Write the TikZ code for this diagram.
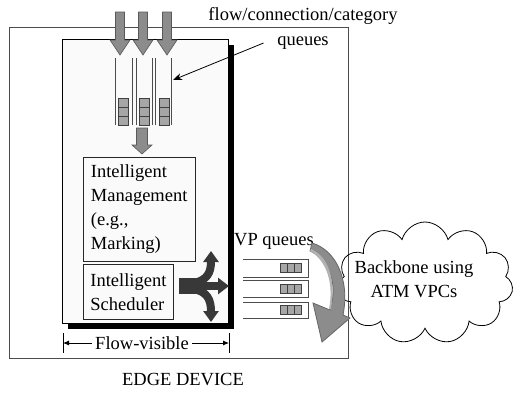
\documentclass[tikz,border=0pt]{standalone}
\usepackage{fontspec}
\setmainfont{Liberation Serif}
\usetikzlibrary{arrows.meta,shapes.symbols,positioning}
\tikzset{
  cell/.style={draw=black!75, fill=black!35, line width=0.6bp, inner sep=0pt, minimum width=10bp, minimum height=9bp},
  vcell/.style={cell, minimum width=7bp},
  blockarrow/.style={fill=black!45, draw=black!65, line width=0.6bp},
  box/.style={draw=black!85, line width=0.8bp, align=left, anchor=north west, inner ysep=0pt},
  sched/.style={black!78},
}
\begin{document}
\begin{tikzpicture}[x=1bp, y=-1bp, line width=0.8bp, font=\fontsize{18.5bp}{24bp}\selectfont]
  \useasboundingbox (0,0) rectangle (514,398);
  % edge device
  \draw[black!70] (9,27) rectangle (348,358);
  \node (edge) at (183,380) {EDGE DEVICE};
  % flow-visible part, with shadow
  \fill (68,45) rectangle (234,329);
  \draw[fill=black!2] (62,39) rectangle (228,323);
  % incoming flows
  \foreach \x in {120,143,167}
    \filldraw[blockarrow] (\x-4.5,12) -- (\x+4.5,12) -- (\x+4.5,40) -- (\x+10,40) -- (\x,55) -- (\x-10,40) -- (\x-4.5,40) -- cycle;
  % per-flow queues
  \foreach \l/\r/\c [count=\i] in {115/132/123.5, 136/152/144, 155/171/164} {
    \draw[black!70] (\l,58) -- (\l,125) (\r,58) -- (\r,125);
    \foreach \y [count=\j] in {102.5,111.5,120.5}
      \node[cell] (q\i-\j) at (\c,\y) {};
  }
  \filldraw[blockarrow] (136.5,128) -- (147.5,128) -- (147.5,145) -- (152,145) -- (142,154) -- (132,145) -- (136.5,145) -- cycle;
  \node (flowlab) at (303,16) {flow/connection/category};
  \node (qlab) at (303,43) {queues};
  \coordinate (chan3) at (173,80);
  \draw[-{Stealth[length=9bp,width=7bp]}] ([xshift=-10bp]qlab.west) -- (chan3);
  % management and scheduler
  \node[box, minimum width=112bp, minimum height=104bp, text width=97bp, inner xsep=7.5bp] (mgmt) at (83,157)
    {Intelligent\\Management\\(e.g.,\\Marking)};
  \node[box, minimum width=90bp, minimum height=55bp, text width=76bp, inner xsep=7bp] (sched) at (83,264)
    {Intelligent\\Scheduler};
  \coordinate (fork) at (198,286);
  \coordinate (forkR) at (229,286);
  \coordinate (forkU) at (211,251);
  \coordinate (forkD) at (211,322);
  \fill[sched] (179,278) rectangle (200,294);
  \draw[sched, line width=8bp, -{Triangle[length=11bp,width=16bp]}] (fork) -- (forkR);
  \draw[sched, line width=8bp, -{Triangle[length=11bp,width=15bp]}] (194,283) .. controls (207,280) and (211,273) .. (forkU);
  \draw[sched, line width=8bp, -{Triangle[length=11bp,width=15bp]}] (194,289) .. controls (207,292) and (211,299) .. (forkD);
  % VP queues
  \node (vplab) at (274,241) {VP queues};
  \foreach \t/\b [count=\i] in {259/277, 280/297, 302/318} {
    \draw[black!70] (243,\t) -- (308,\t) -- (308,\b) -- (243,\b);
    \foreach \x [count=\j] in {283.5,290.5,297.5}
      \node[vcell] (v\i-\j) at (\x,{(\t+\b)/2}) {};
  }
  % backbone
  \node[cloud, draw, cloud puffs=11, aspect=1.45, minimum width=176bp, minimum height=122bp, inner sep=0pt] (backbone) at (425,283) {};
  \node[align=center] (bbtext) at (414,279) {Backbone using\\ATM VPCs};
  \filldraw[fill=black!45, draw=black!60] (312,243) .. controls (336,250) and (350,280) .. (343,315) -- (350,318) -- (322,342) -- (313,303) -- (330,310) .. controls (338,285) and (330,260) .. (310,251) -- cycle;
  \fill[black!30] (311,249) .. controls (329,257) and (336,280) .. (331,309) -- (329,309) .. controls (334,284) and (327,261) .. (310,251) -- cycle;
  % flow-visible span
  \node (vis) at (142,343) {Flow-visible};
  \coordinate (visL) at (63,343);
  \coordinate (visR) at (229,343);
  \draw (visL) ++(0,-10) -- ++(0,20);
  \draw (visR) ++(0,-10) -- ++(0,20);
  \draw[-{Latex[length=6bp,width=5bp]}] (vis.west) -- (visL);
  \draw[-{Latex[length=6bp,width=5bp]}] (vis.east) -- (visR);
\end{tikzpicture}
\end{document}
